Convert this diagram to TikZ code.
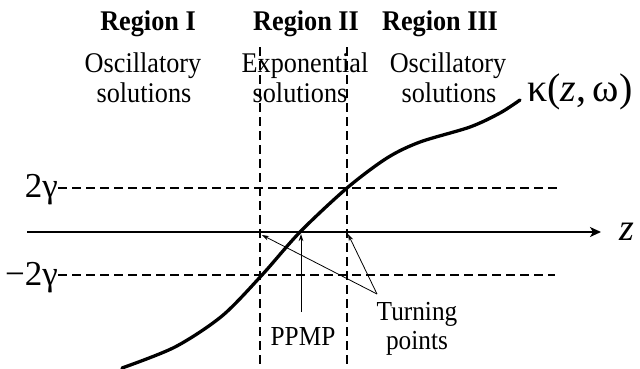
\documentclass[tikz,border=0pt]{standalone}
\usepackage{fontspec}
\setmainfont{Liberation Serif}[FakeStretch=0.92]
\newfontfamily\plainserif{Liberation Serif}
\usetikzlibrary{arrows.meta}
\begin{document}
\begin{tikzpicture}[x=1pt,y=-1pt,
  hdr/.style={font=\bfseries\fontsize{28.5}{30}\selectfont, inner sep=0pt, anchor=base},
  lbl/.style={font=\fontsize{28.5}{30}\selectfont, inner sep=0pt, anchor=base},
  small/.style={font=\fontsize{27.5}{29}\selectfont, inner sep=0pt, anchor=base},
  big/.style={inner sep=0pt},
  guide/.style={dashed, dash pattern=on 9pt off 5pt, line width=1.2pt},
  pointer/.style={line width=0.8pt, -{Stealth[length=7pt,width=4.5pt]}},
  curve/.style={line width=3.3pt, line cap=round},
  axis/.style={line width=1.6pt, -{Stealth[length=11pt,width=10pt,inset=3pt]}}]
\useasboundingbox (0,0) rectangle (640,368);

% headings
\node[hdr] (r1) at (148,30) {Region I};
\node[hdr] (r2) at (306,30) {Region II};
\node[hdr] (r3) at (440,30) {Region III};
\node[lbl] (o1) at (143,72) {Oscillatory};
\node[lbl] (s1) at (144,102) {solutions};
\node[lbl] (e2) at (305,72) {Exponential};
\node[lbl] (s2) at (300,102) {solutions};
\node[lbl] (o3) at (448,72) {Oscillatory};
\node[lbl] (s3) at (449,102) {solutions};

% guide lines
\coordinate (v1t) at (260,47);
\coordinate (v1b) at (260,368);
\coordinate (v2t) at (347,47);
\coordinate (v2b) at (347,368);
\draw[guide] (v1t) -- (v1b);
\draw[guide] (v2t) -- (v2b);

\node[big, font=\plainserif\fontsize{35}{36}\selectfont, anchor=base east] (pg) at (58,197) {2γ};
\node[big, font=\plainserif\fontsize{35}{36}\selectfont, anchor=base east] (mg) at (58,285) {−2γ};
\coordinate (pge) at (557,188);
\coordinate (mge) at (555,275);
\draw[guide] (pg.east |- pge) -- (pge);
\draw[guide] (mg.east |- mge) -- (mge);

% axis
\coordinate (ax0) at (27,232);
\coordinate (ax1) at (601,232);
\draw[axis] (ax0) -- (ax1);
\node[big, font=\plainserif\fontsize{38}{39}\selectfont\itshape] (zl) at (627,232) {z};

% curve
\draw[curve] plot[smooth, tension=0.5] coordinates {(122,368) (175,347) (222,316) (262,275) (300,232) (347,188) (387,158) (420,142) (470,127) (500,113) (520,100)};
\node[big, font=\plainserif\fontsize{40}{41}\selectfont, anchor=base west] (kap) at (527,101) {κ(\textit{z},\,ω)};

% annotations
\node[small] (pp) at (303,345) {PPMP};
\node[small] (tu) at (417,320) {Turning};
\node[small] (po) at (417,349) {points};
\coordinate (ppb) at (301,312);
\coordinate (ppt) at (301,234);
\draw[pointer] (ppb) -- (ppt);
\coordinate (tpo) at (377,294);
\coordinate (tpl) at (262,235);
\coordinate (tpr) at (348,234);
\draw[pointer] (tpo) -- (tpl);
\draw[pointer] (tpo) -- (tpr);
\end{tikzpicture}
\end{document}
